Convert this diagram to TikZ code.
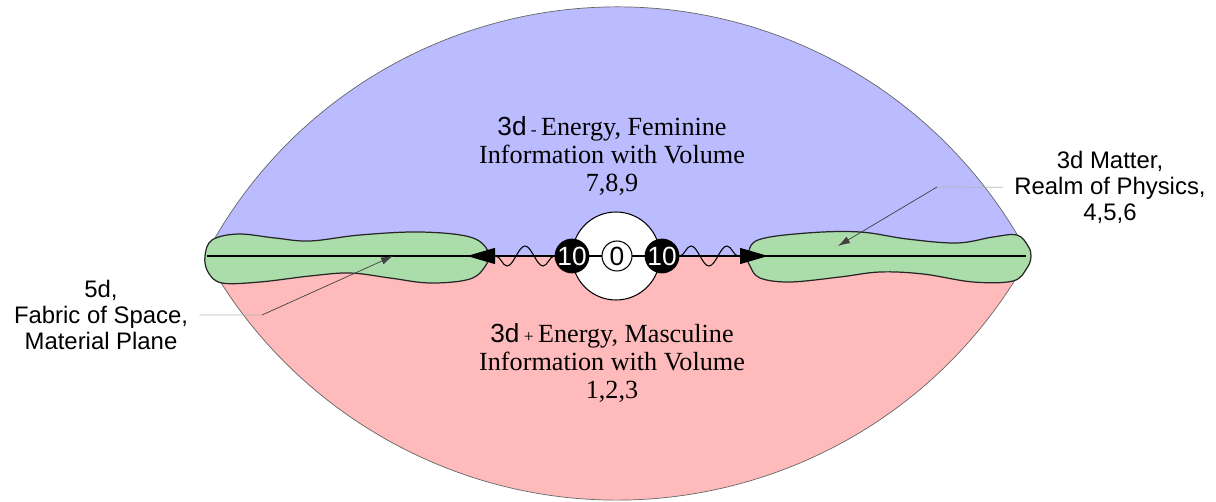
\documentclass[tikz,border=0pt]{standalone}
\usepackage{fontspec}
\setmainfont{Liberation Serif}
\setsansfont{Liberation Sans}
\definecolor{lensBlue}{HTML}{BBBBFF}
\definecolor{lensPink}{HTML}{FFBBBB}
\definecolor{blobGreen}{HTML}{AADDAA}
\definecolor{leadGray}{HTML}{B4B4B4}
\usetikzlibrary{arrows.meta, decorations.pathmorphing}

\begin{document}
\begin{tikzpicture}[x=0.02cm, y=-0.02cm,
  serifLabel/.style={font=\fontsize{14.9}{16}\selectfont, align=center, inner sep=0pt, anchor=north},
  sansLabel/.style={font=\sffamily\fontsize{13.6}{14.7}\selectfont, align=center, inner ysep=0pt, inner xsep=0.22cm, anchor=north},
  blob/.style={fill=blobGreen, draw=black!85, line width=0.7pt},
  ten/.style={circle, fill=black, text=white, minimum size=0.64cm, inner sep=0pt, font=\sffamily\fontsize{15}{15}\selectfont},
  wave/.style={line width=0.6pt, decorate, decoration={snake, segment length=0.72cm, amplitude=0.2cm, post length=0.56cm}, -{Triangle[length=0.56cm, width=0.32cm]}},
  pointer/.style={draw=black!75, line width=0.4pt, -{Latex[length=0.24cm, width=0.15cm]}}]
  \useasboundingbox (0,0) rectangle (1216,502);

  \fill[lensBlue] (205,256) arc[start angle=207.7, end angle=332.3, radius=465.4] -- cycle;
  \fill[lensPink] (205,256) arc[start angle=151.28, end angle=28.72, radius=469.8] -- cycle;
  \draw[black!60, line width=0.4pt] (205,256) arc[start angle=207.7, end angle=332.3, radius=465.4]
    arc[start angle=28.72, end angle=151.28, radius=469.8];

  \draw[blob] plot[smooth cycle, tension=0.6] coordinates {(205,256) (212,240) (238,234) (275,238) (310,241) (360,235) (420,232) (470,237) (488,251) (486,265) (470,279) (430,283) (390,278) (350,273) (310,276) (260,282) (222,283) (208,272)};
  \draw[blob] plot[smooth cycle, tension=0.6] coordinates {(748,256) (758,240) (807,233) (860,232) (907,239) (957,243) (993,237) (1017,235) (1028,246) (1031,256) (1027,268) (1013,281) (973,282) (923,274) (880,272) (840,277) (790,282) (760,278) (750,266)};

  \coordinate (lend) at (207,256);
  \coordinate (rend) at (1026,256);
  \coordinate (ltip) at (467,256);
  \coordinate (rtip) at (768,256);

  \node[circle, draw, fill=white, minimum size=1.76cm, line width=0.6pt] (core) at (616,256) {};
  \draw[line width=1.1pt] (lend) -- (rend);

  \node[ten] (lten) at (572,256) {10};
  \node[ten] (rten) at (662,256) {10};
  \node[circle, draw, fill=white, minimum size=0.6cm, inner sep=0pt, line width=0.6pt,
    font=\sffamily\fontsize{15}{15}\selectfont] (zero) at (617,256) {0};

  \draw[wave] (lten.west) -- (ltip);
  \draw[wave] (rten.east) -- (rtip);

  \node[serifLabel] (feminine) at (612,116) {{\sffamily 3d}\,{\fontsize{10}{10}\selectfont -}\,Energy, Feminine\\ Information with Volume\\ 7,8,9};
  \node[serifLabel] (masculine) at (612,323) {{\sffamily 3d}\,{\fontsize{10}{10}\selectfont +}\,Energy, Masculine\\ Information with Volume\\ 1,2,3};
  \node[sansLabel] (matter) at (1110,151) {3d Matter,\\ Realm of Physics,\\ 4,5,6};
  \node[sansLabel] (fabric) at (101,280) {5d,\\ Fabric of Space,\\ Material Plane};

  \coordinate (rbend) at (937,187);
  \coordinate (lbend) at (262,315);
  \coordinate (rpoint) at (838,246);
  \coordinate (lpoint) at (393,256);
  \draw[leadGray, line width=0.4pt] (matter.west) -- (rbend);
  \draw[pointer] (rbend) -- (rpoint);
  \draw[leadGray, line width=0.4pt] (fabric.east) -- (lbend);
  \draw[pointer] (lbend) -- (lpoint);
\end{tikzpicture}
\end{document}
